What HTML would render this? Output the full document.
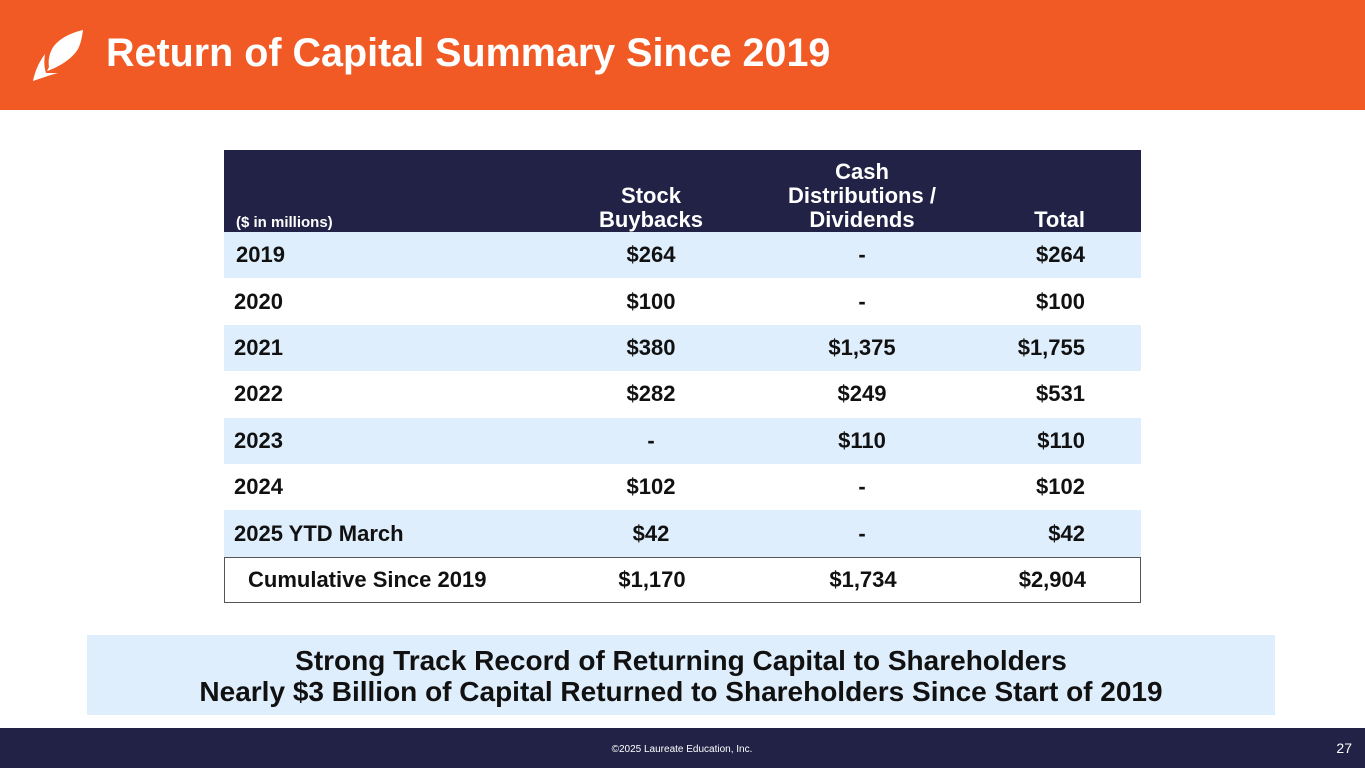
<!DOCTYPE html>
<html><head><meta charset="utf-8"><style>
*{margin:0;padding:0;box-sizing:border-box}
body{width:1365px;height:768px;position:relative;background:#fff;font-family:"Liberation Sans",Arial,sans-serif;overflow:hidden}
.abs{position:absolute}
#hdr{left:0;top:0;width:1365px;height:110px;background:#F15A24}
#title{left:106px;top:31px;color:#fff;font-size:39.5px;font-weight:bold;white-space:nowrap}
#th{left:224px;top:150px;width:917px;height:82px;background:#222246;color:#fff;font-weight:bold}
.hc{position:absolute;bottom:0;font-size:22px;line-height:24px;text-align:center;white-space:nowrap}
.row{position:absolute;left:224px;width:917px;font-weight:bold;font-size:22px;color:#111}
.row div{position:absolute;top:0;height:100%;display:flex;align-items:center;white-space:nowrap}
#banner{left:87px;top:635px;width:1188px;height:80px;background:#DFEEFC;text-align:center;font-weight:bold;font-size:28px;line-height:31px;padding-top:10px;color:#111;white-space:nowrap}
#ftr{left:0;top:728px;width:1365px;height:40px;background:#222246;color:#fff}
</style></head><body>
<div id="hdr" class="abs">
<svg class="abs" style="left:32px;top:29px" width="54" height="54" viewBox="0 0 54 54"><path d="M51 1 C38 4 26 10 20 20 C17 26 16 32 17 38 L15 42 C27 38 40 30 46 20 C49 14 50 8 51 1Z M13 25 C7 33 3 42 1 52 C10 49 18 46 26 44 L14 44 C12 38 12 31 13 25Z" fill="#fff"/></svg>
<div id="title" class="abs">Return of Capital Summary Since 2019</div>
</div>
<div id="th" class="abs">
<div class="hc" style="left:12px;font-size:15px;line-height:16px;bottom:1px">($ in millions)</div>
<div class="hc" style="left:347px;width:160px">Stock<br>Buybacks</div>
<div class="hc" style="left:538px;width:200px">Cash<br>Distributions /<br>Dividends</div>
<div class="hc" style="right:56px;width:100px;text-align:right">Total</div>
</div>
<div id="rows"></div>
<div id="banner" class="abs">Strong Track Record of Returning Capital to Shareholders<br>Nearly $3 Billion of Capital Returned to Shareholders Since Start of 2019</div>
<div id="ftr" class="abs">
<div class="abs" style="left:582px;width:200px;top:16px;text-align:center;font-size:10px">©2025 Laureate Education, Inc.</div>
<div class="abs" style="right:13px;top:12px;font-size:14px">27</div>
</div>
<script>
const years=["2019","2020","2021","2022","2023","2024","2025 YTD March","Cumulative Since 2019"];
const buybacks=["$264","$100","$380","$282","-","$102","$42","$1,170"];
const dividends=["-","-","$1,375","$249","$110","-","-","$1,734"];
const totals=["$264","$100","$1,755","$531","$110","$102","$42","$2,904"];
const host=document.getElementById('rows');
const top0=232,rh=46.4;
years.forEach((y,i)=>{
const r=document.createElement('div');
r.className='row';


const last=i===years.length-1;
r.style.top=(top0+i*rh)+'px';
r.style.height=rh+'px';
r.style.background=last?'#fff':(i%2===0?'#DFEEFC':'#fff');
if(last)r.style.border='1px solid #555';
r.innerHTML='<div style="left:'+(last?23:(i===0?12:10))+'px">'+y+'</div>'+
'<div style="left:347px;width:160px;justify-content:center">'+buybacks[i]+'</div>'+
'<div style="left:558px;width:160px;justify-content:center">'+dividends[i]+'</div>'+
'<div style="left:700px;width:161px;justify-content:flex-end">'+totals[i]+'</div>';
host.appendChild(r);
});
</script>
</body></html>
